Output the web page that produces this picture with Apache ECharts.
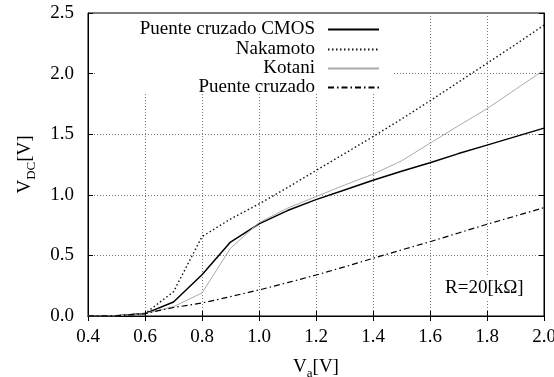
<!DOCTYPE html>
<html>
<head>
<meta charset="utf-8">
<script src="https://cdn.jsdelivr.net/npm/echarts@6/dist/echarts.min.js"></script>
<style>html,body{margin:0;padding:0;background:#fff}#c{width:554px;height:377px}</style>
</head>
<body>
<div id="c"></div>
<script>
const va = [0.4, 0.5, 0.6, 0.7, 0.8, 0.9, 1.0, 1.1, 1.2, 1.3, 1.4, 1.5, 1.6, 1.7, 1.8, 1.9, 2.0];
const cmos     = [0, 0.002, 0.02, 0.115, 0.34, 0.61, 0.76, 0.87, 0.96, 1.04, 1.12, 1.195, 1.265, 1.34, 1.41, 1.48, 1.55];
const nakamoto = [0, 0.001, 0.02, 0.20, 0.655, 0.80, 0.925, 1.06, 1.20, 1.34, 1.48, 1.625, 1.775, 1.93, 2.085, 2.24, 2.40];
const kotani   = [0, 0.001, 0.02, 0.077, 0.19, 0.56, 0.77, 0.89, 0.985, 1.08, 1.17, 1.28, 1.425, 1.57, 1.71, 1.87, 2.03];
const cruzado  = [0, 0.002, 0.02, 0.07, 0.107, 0.16, 0.215, 0.275, 0.338, 0.405, 0.476, 0.545, 0.613, 0.685, 0.757, 0.825, 0.894];
const seriesNames = ['Puente cruzado CMOS', 'Nakamoto', 'Kotani', 'Puente cruzado'];
const xTickLabels = ['0.4','0.6','0.8','1.0','1.2','1.4','1.6','1.8','2.0'];
const yTickLabels = ['0.0','0.5','1.0','1.5','2.0','2.5'];
const annotation = 'R=20[kΩ]';

const FONT = '"Liberation Serif", "DejaVu Serif", serif';
const pairs = arr => va.map((x, i) => [x, arr[i]]);
const xMin = parseFloat(xTickLabels[0]), xMax = parseFloat(xTickLabels[xTickLabels.length-1]);
const yMin = parseFloat(yTickLabels[0]), yMax = parseFloat(yTickLabels[yTickLabels.length-1]);

const styles = [
  {color:'#000', width:1.5, type:'solid'},
  {color:'#111', width:1.4, type:[1.5,2.5]},
  {color:'#aaa', width:1, type:'solid'},
  {color:'#000', width:1.2, type:[6,3,1.5,3]}
];
const datasets = [cmos, nakamoto, kotani, cruzado];

const chart = echarts.init(document.getElementById('c'));
const gridSplit = {show:true, lineStyle:{color:'#777', width:1, type:[1,2]}};
const baseX = {type:'value', min:xMin, max:xMax, interval:0.2};
const baseY = {type:'value', min:yMin, max:yMax, interval:0.5};
const legendTops = [20, 40, 59, 78];
const richName = {
  v:{fontFamily:FONT, fontSize:19, color:'#000', lineHeight:22, verticalAlign:'top'},
  s:{fontFamily:FONT, fontSize:13, color:'#000', lineHeight:13, verticalAlign:'bottom'}
};

chart.setOption({
  animation:false,
  backgroundColor:'#fff',
  textStyle:{fontFamily:FONT},
  grid:{left:88, right:10, top:13, bottom:61, show:true, borderColor:'#000', borderWidth:1, outerBoundsMode:'none', containLabel:false},
  xAxis:[
    Object.assign({}, baseX, {
      position:'bottom',
      axisLine:{show:true, lineStyle:{color:'#000'}},
      axisTick:{show:true, inside:true, length:5, lineStyle:{color:'#000'}},
      axisLabel:{fontFamily:FONT, fontSize:19, color:'#000', margin:12, formatter:v=>v.toFixed(1)},
      splitLine:gridSplit,
      name:'{v|V}{s|a}{v|[V]}', nameLocation:'middle', nameGap:42,
      nameTextStyle:{rich:richName}
    }),
    Object.assign({}, baseX, {
      position:'top',
      axisLine:{show:true, lineStyle:{color:'#000'}},
      axisTick:{show:true, inside:true, length:5, lineStyle:{color:'#000'}},
      axisLabel:{show:false}, splitLine:{show:false}
    })
  ],
  yAxis:[
    Object.assign({}, baseY, {
      position:'left',
      axisLine:{show:true, lineStyle:{color:'#000'}},
      axisTick:{show:true, inside:true, length:5, lineStyle:{color:'#000'}},
      axisLabel:{fontFamily:FONT, fontSize:19, color:'#000', margin:14, formatter:v=>v.toFixed(1)},
      splitLine:gridSplit,
      name:'{v|V}{s|DC}{v|[V]}', nameLocation:'middle', nameGap:50, nameRotate:90,
      nameTextStyle:{rich:richName}
    }),
    Object.assign({}, baseY, {
      position:'right',
      axisLine:{show:true, lineStyle:{color:'#000'}},
      axisTick:{show:true, inside:true, length:5, lineStyle:{color:'#000'}},
      axisLabel:{show:false}, splitLine:{show:false}
    })
  ],
  graphic:[{
    type:'rect', z:1, silent:true,
    shape:{x:96, y:15, width:297, height:78},
    style:{fill:'#fff'}
  }],
  title:{
    text:annotation, left:443, top:277, padding:[2,2,2,2],
    backgroundColor:'#fff',
    textStyle:{fontFamily:FONT, fontSize:19, fontWeight:'normal', color:'#000'}
  },
  legend: seriesNames.map((n, i) => ({
    data:[n], right:174, top:legendTops[i], orient:'vertical', align:'right',
    padding:0, itemWidth:51, itemHeight:14, selectedMode:false, z:20,
    itemStyle:{color:'transparent', borderWidth:0, opacity:0},
    textStyle:{fontFamily:FONT, fontSize:19, color:'#000', padding:[0,8,0,0]}
  })),
  series: datasets.map((d, i) => ({
    name:seriesNames[i], type:'line', data:pairs(d), showSymbol:false, symbol:'none',
    xAxisIndex:0, yAxisIndex:0,
    lineStyle:styles[i], itemStyle:{color:styles[i].color}, z:3
  }))
});
</script>
</body>
</html>
